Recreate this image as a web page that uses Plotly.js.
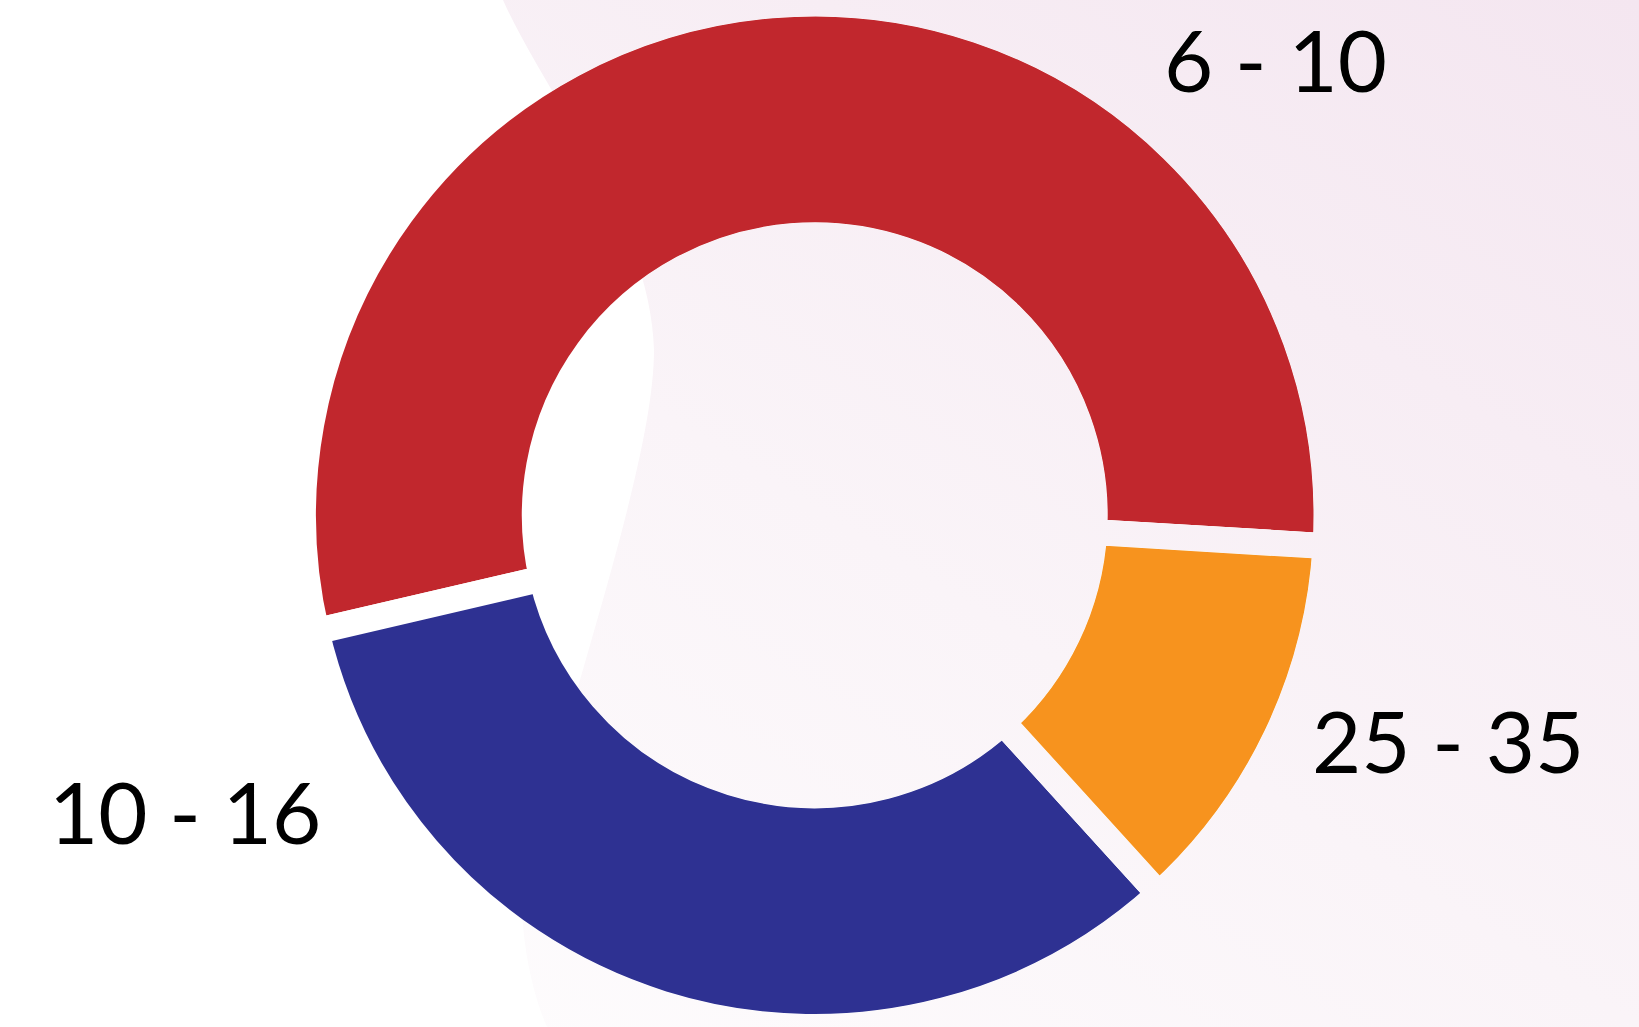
<!DOCTYPE html>
<html>
<head>
<meta charset="utf-8">
<script src="https://cdn.plot.ly/plotly-3.0.1.min.js"></script>
<style>
html, body { margin: 0; padding: 0; width: 1639px; height: 1027px; overflow: hidden; background: #ffffff; }
#wrap { position: relative; width: 1639px; height: 1027px; background: #ffffff; }
#chart { position: absolute; left: 0; top: 0; width: 1639px; height: 1027px; }
#bg { position: absolute; left: 0; top: 0; mix-blend-mode: darken; pointer-events: none; }
</style>
</head>
<body>
<div id="wrap">
  <div id="chart"></div>
  <!-- decorative page background (pink gradient with a white swoosh), blended so the slice gaps show it -->
  <svg id="bg" width="1639" height="1027" viewBox="0 0 1639 1027">
    <defs>
      <linearGradient id="g" gradientUnits="userSpaceOnUse" x1="357.5" y1="1250.4" x2="1281.5" y2="-223.4">
        <stop offset="0" stop-color="#FFFFFF"/>
        <stop offset="0.5" stop-color="#FAF4F8"/>
        <stop offset="1" stop-color="#F4E6F0"/>
      </linearGradient>
    </defs>
    <rect x="0" y="0" width="1639" height="1027" fill="url(#g)"/>
    <path d="M0,0 L503,0 C545,95 650,220 654,350 C654,470 560,720 522,900 C522,950 535,1000 547,1027 L0,1027 Z" fill="#FFFFFF"/>
  </svg>
</div>
<script>
// ---- data ----
const categories = ['6 - 10', '10 - 16', '25 - 35'];
const values = [54.6, 33.1, 12.3];

// ---- styles ----
const sliceColors = ['#C1272D', '#2E3192', '#F7931E'];
const labelPos = { '6 - 10': [1275, 59], '10 - 16': [185, 811], '25 - 35': [1448, 740] };

const W = 1639, H = 1027;
const px = x => x / W;
const py = y => 1 - y / H;

const trace = {
  type: 'pie',
  labels: categories,
  values: values,
  sort: false,
  direction: 'counterclockwise',
  rotation: 256.9,
  hole: 0.547,
  domain: { x: [0.1, 0.8942], y: [0, 0.9966] },
  marker: { colors: sliceColors, line: { color: '#FFFFFF', width: 26 } },
  textinfo: 'none',
  hoverinfo: 'skip',
  showlegend: false
};

const annotations = categories.map(c => ({
  xref: 'paper', yref: 'paper',
  x: px(labelPos[c][0]), y: py(labelPos[c][1]),
  xanchor: 'center', yanchor: 'middle',
  text: c, showarrow: false,
  font: { family: 'Lato, "Open Sans", sans-serif', size: 85, color: '#000000' }
}));

const layout = {
  width: W, height: H,
  margin: { l: 0, r: 0, t: 0, b: 0, pad: 0 },
  paper_bgcolor: '#FFFFFF',
  plot_bgcolor: '#FFFFFF',
  showlegend: false,
  annotations: annotations
};

Plotly.newPlot('chart', [trace], layout, { staticPlot: true, displayModeBar: false });
</script>
</body>
</html>
